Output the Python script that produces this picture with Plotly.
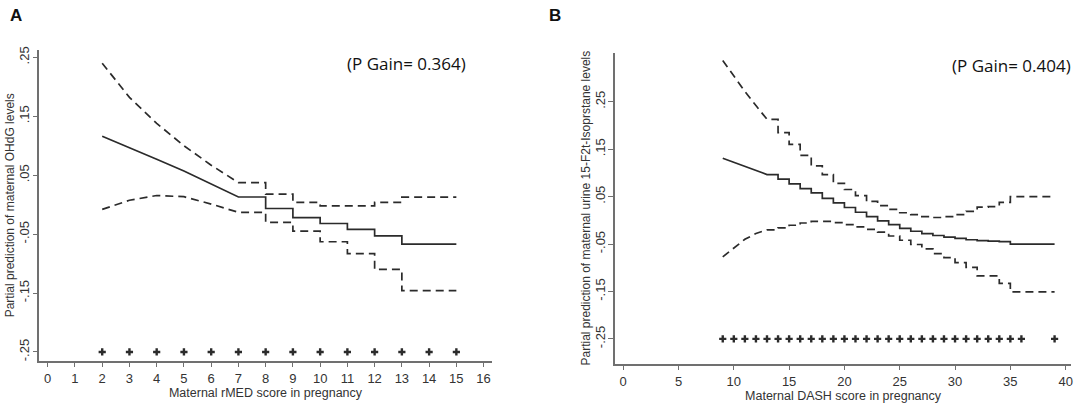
import plotly.graph_objects as go

# ---- data ----
# panel A : rMED score
a_score = [2, 3, 4, 5, 6, 7, 8, 9, 10, 11, 12, 13, 14, 15]
a_fit = [0.116, 0.097, 0.077, 0.057, 0.035, 0.013, -0.0065, -0.022, -0.032,
         -0.042, -0.053, -0.067, -0.067, -0.067]
a_upper = [0.240, 0.182, 0.138, 0.100, 0.067, 0.0375, 0.018, 0.004, -0.002,
           -0.002, 0.004, 0.0126, 0.0126, 0.0126]
a_lower = [-0.008, 0.0075, 0.0155, 0.0135, 0.001, -0.013, -0.030, -0.045,
           -0.063, -0.083, -0.110, -0.146, -0.146, -0.146]
a_obs = [2, 3, 4, 5, 6, 7, 8, 9, 10, 11, 12, 13, 14, 15]
a_smooth = 6  # points before the step part starts

# panel B : DASH score
b_score = list(range(9, 40))
b_fit = [0.131, 0.1224, 0.1138, 0.105, 0.0965, 0.087, 0.077, 0.067, 0.058,
         0.0465, 0.037, 0.027, 0.017, 0.008, -0.001, -0.009, -0.017, -0.023,
         -0.028, -0.032, -0.0355, -0.038, -0.041, -0.043, -0.044, -0.045,
         -0.050, -0.050, -0.050, -0.050, -0.050]
b_upper = [0.337, 0.304, 0.272, 0.242, 0.213, 0.185, 0.160, 0.137, 0.115,
           0.0965, 0.078, 0.065, 0.052, 0.040, 0.031, 0.023, 0.016, 0.012,
           0.008, 0.006, 0.0077, 0.012, 0.019, 0.028, 0.029, 0.038, 0.050,
           0.050, 0.050, 0.050, 0.050]
b_lower = [-0.077, -0.0576, -0.040, -0.0278, -0.020, -0.016, -0.0104, -0.0056,
           -0.002, -0.002, -0.0048, -0.009, -0.014, -0.019, -0.025, -0.033,
           -0.042, -0.051, -0.060, -0.070, -0.0785, -0.089, -0.099, -0.117,
           -0.117, -0.133, -0.151, -0.151, -0.151, -0.151, -0.151]
b_obs = list(range(9, 37)) + [39]
b_smooth = 5

y_ticks = [-0.25, -0.15, -0.05, 0.05, 0.15, 0.25]
y_labels = ['-.25', '-.15', '-.05', '.05', '.15', '.25']


def stepped(xs, ys, n_smooth):
    # smooth part first, then horizontal/vertical steps
    px = list(xs[:n_smooth])
    py = list(ys[:n_smooth])
    for i in range(n_smooth, len(xs)):
        px += [xs[i], xs[i]]
        py += [ys[i - 1], ys[i]]
    return px, py


ink = '#2b2b2b'
axis_col = '#707070'
fig = go.Figure()

for sfx, xs, fit, up, lo, obs, ns in [('', a_score, a_fit, a_upper, a_lower, a_obs, a_smooth),
                                      ('2', b_score, b_fit, b_upper, b_lower, b_obs, b_smooth)]:
    for ys, dash in [(up, '8px,5px'), (lo, '8px,5px'), (fit, 'solid')]:
        px, py = stepped(xs, ys, ns)
        fig.add_trace(go.Scatter(x=px, y=py, mode='lines', xaxis='x' + sfx, yaxis='y' + sfx,
                                 line=dict(color=ink, width=1.7, dash=dash),
                                 showlegend=False, hoverinfo='skip'))
    fig.add_trace(go.Scatter(x=obs, y=[-0.25] * len(obs), mode='markers',
                             xaxis='x' + sfx, yaxis='y' + sfx,
                             marker=dict(symbol='cross', size=6, color=ink),
                             showlegend=False, hoverinfo='skip'))

font = dict(family='Liberation Sans, Arial, sans-serif', size=12, color='#333333')
common = dict(showgrid=False, zeroline=False, showline=True, linecolor=axis_col, linewidth=1.5,
              ticks='outside', ticklen=5, tickwidth=1.2, tickcolor=axis_col,
              tickfont=dict(family=font['family'], size=13, color='#333333'))

fig.update_layout(
    width=1084, height=408,
    margin=dict(l=0, r=0, t=0, b=0),
    paper_bgcolor='white', plot_bgcolor='white',
    font=font,
    xaxis=dict(common, domain=[0.0363, 0.4545], range=[-0.31, 16.3],
               tickvals=list(range(0, 17)),
               title=dict(text='Maternal rMED score in pregnancy', standoff=1,
                          font=dict(size=12.5)), anchor='y'),
    yaxis=dict(common, domain=[0.1152, 0.8858], range=[-0.2646, 0.2624],
               tickvals=y_ticks, ticktext=y_labels, tickangle=-90, ticklabelstandoff=-2,
               title=dict(text='Partial prediction of maternal OHdG levels', standoff=0,
                          font=dict(size=12)), anchor='x'),
    xaxis2=dict(common, domain=[0.5683, 0.990], range=[-0.75, 40.5],
                tickvals=list(range(0, 41, 5)),
                title=dict(text='Maternal DASH score in pregnancy', standoff=1,
                           font=dict(size=12.5)), anchor='y2'),
    yaxis2=dict(common, domain=[0.1078, 0.8792], range=[-0.302, 0.3535],
                tickvals=y_ticks, ticktext=y_labels, tickangle=-90, ticklabelstandoff=-2,
                title=dict(text='Partial prediction of maternal urine 15-F2t-Isoprstane levels',
                           standoff=0, font=dict(size=12)), anchor='x2'),
    annotations=[
        dict(text='<b>A</b>', x=0.007, y=1.0, xref='paper', yref='paper',
             xanchor='left', yanchor='top', showarrow=False,
             font=dict(family='Liberation Sans, Arial', size=17, color='#111111')),
        dict(text='<b>B</b>', x=0.506, y=1.0, xref='paper', yref='paper',
             xanchor='left', yanchor='top', showarrow=False,
             font=dict(family='Liberation Sans, Arial', size=17, color='#111111')),
        dict(text='(P Gain= 0.364)', x=0.4325, y=0.853, xref='paper', yref='paper',
             xanchor='right', yanchor='middle', showarrow=False,
             font=dict(family='Open Sans, sans-serif', size=17, color='#111111')),
        dict(text='(P Gain= 0.404)', x=0.9915, y=0.848, xref='paper', yref='paper',
             xanchor='right', yanchor='middle', showarrow=False,
             font=dict(family='Open Sans, sans-serif', size=17, color='#111111')),
    ],
)

# page body has a default margin, drop it so the figure sits at the top-left corner
fig.write_html("out.html", config={'displayModeBar': False},
               post_script="document.body.style.margin='0';")
